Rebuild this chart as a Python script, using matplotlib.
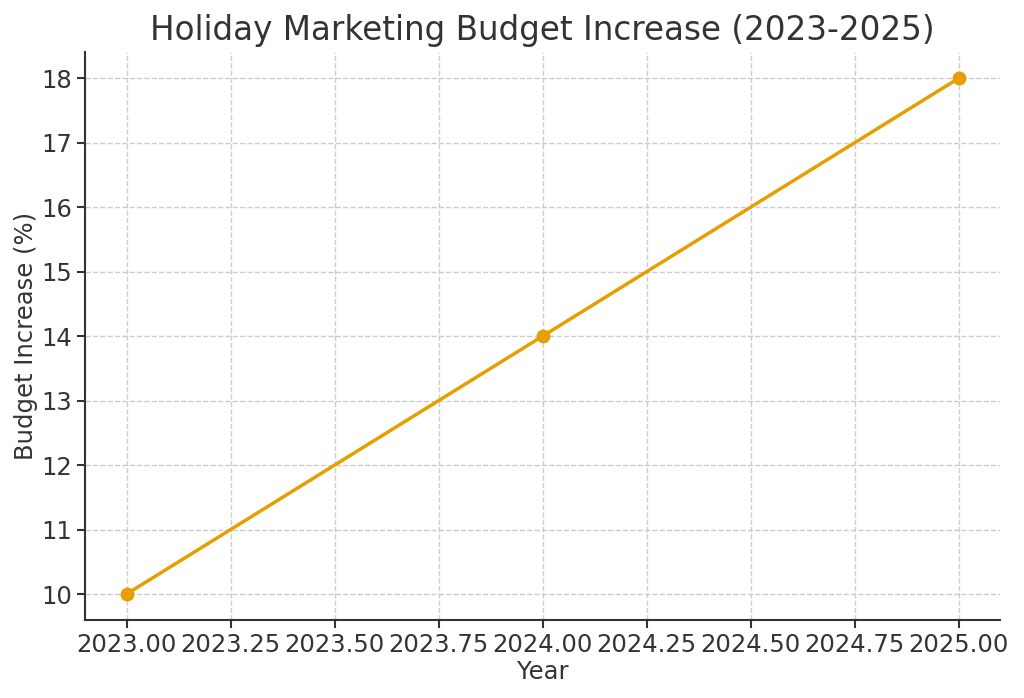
import matplotlib
matplotlib.use("Agg")
import matplotlib.pyplot as plt

# data
years = [2023, 2024, 2025]
budget_increase = [10, 14, 18]

text_color = "#333333"

fig, ax = plt.subplots(figsize=(10.24, 6.98), dpi=100)
ax.plot(years, budget_increase, color="#E69F00", linewidth=2.5,
        marker="o", markersize=9)

ax.set_title("Holiday Marketing Budget Increase (2023-2025)",
             fontsize=23.5, color=text_color, pad=9)
ax.set_xlabel("Year", fontsize=17.5, color=text_color, labelpad=2)
ax.set_ylabel("Budget Increase (%)", fontsize=17.5, color=text_color, labelpad=2)

ax.set_xticks([2023 + 0.25 * i for i in range(9)])
ax.xaxis.set_major_formatter(matplotlib.ticker.FormatStrFormatter("%.2f"))
ax.tick_params(labelsize=17.5, colors=text_color, width=1.5, length=6)

ax.grid(True, linestyle="--", color="#cccccc", linewidth=1)
for side in ["top", "right"]:
    ax.spines[side].set_visible(False)
for side in ["left", "bottom"]:
    ax.spines[side].set_linewidth(1.5)
    ax.spines[side].set_color(text_color)

plt.subplots_adjust(left=0.083, right=0.977, top=0.925, bottom=0.112)
plt.savefig("out.png")
